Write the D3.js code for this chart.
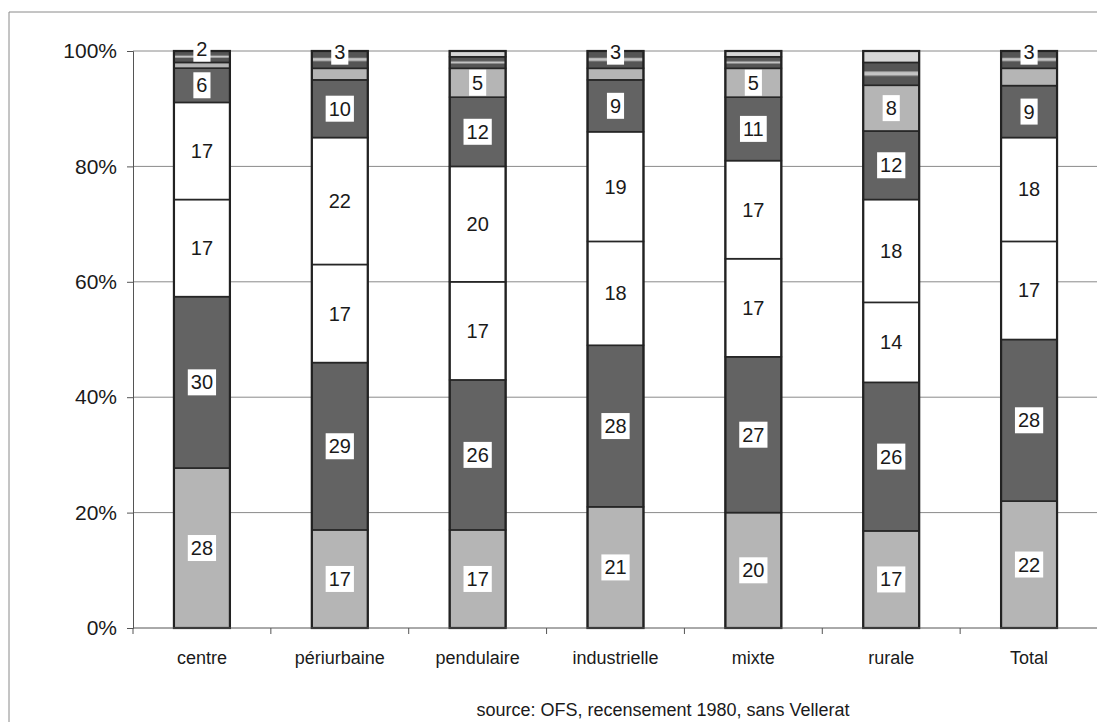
<!DOCTYPE html>
<html>
<head>
<meta charset="utf-8">
<script src="https://cdn.jsdelivr.net/npm/d3@7"></script>
<style>
  html, body { margin: 0; padding: 0; background: #fff; }
  svg { display: block; }
  text { font-family: "Liberation Sans", Arial, sans-serif; fill: #1a1a1a; }
</style>
</head>
<body>
<svg id="chart" width="1097" height="722"></svg>
<script>
// Communes by type (OFS census 1980): share of each of eight groups, in percent
const categories = ["centre", "périurbaine", "pendulaire", "industrielle", "mixte", "rurale", "Total"];
const seg1 = [28, 17, 17, 21, 20, 17, 22];   // light grey (bottom)
const seg2 = [30, 29, 26, 28, 27, 26, 28];   // dark grey
const seg3 = [17, 17, 17, 18, 17, 14, 17];   // white
const seg4 = [17, 22, 20, 19, 17, 18, 18];   // white
const seg5 = [6, 10, 12, 9, 11, 12, 9];      // dark grey
const seg6 = [1, 2, 5, 2, 5, 8, 3];          // light grey
const seg7 = [2, 3, 2, 3, 2, 4, 3];          // striped
const seg8 = [0, 0, 1, 0, 1, 2, 0];          // pale (top)
const yTicks = [0, 0.2, 0.4, 0.6, 0.8, 1];
const sourceNote = "source: OFS, recensement 1980, sans Vellerat";

const segments = [seg1, seg2, seg3, seg4, seg5, seg6, seg7, seg8];
const keys = segments.map((_, i) => "s" + (i + 1));
const rows = categories.map((c, j) => {
  const r = { cat: c };
  segments.forEach((s, i) => { r[keys[i]] = s[j]; });
  return r;
});

const LIGHT = "#b5b5b5", DARK = "#636363", WHITE = "#ffffff", PALE = "#d6d6d6";
const fills = [LIGHT, DARK, WHITE, WHITE, DARK, LIGHT, "url(#stripe)", PALE];

const svg = d3.select("#chart");
const defs = svg.append("defs");
// dark fill with one pale band across the middle of each segment
const stripe = defs.append("pattern")
  .attr("id", "stripe")
  .attr("patternUnits", "objectBoundingBox")
  .attr("patternContentUnits", "objectBoundingBox")
  .attr("width", 1).attr("height", 1);
stripe.append("rect").attr("width", 1).attr("height", 1).attr("fill", "#555");
stripe.append("rect").attr("y", 0.4).attr("width", 1).attr("height", 0.18).attr("fill", "#c4c4c4");

// frame of the chart area
svg.append("path")
  .attr("d", "M9,722 V12 H1097")
  .attr("fill", "none").attr("stroke", "#8a8a8a").attr("stroke-width", 1);

const plot = { left: 133, right: 1098, top: 51, bottom: 628 };

const x = d3.scaleBand()
  .domain(categories)
  .range([plot.left, plot.right])
  .paddingInner(0.594)
  .paddingOuter(0.297);

const y = d3.scaleLinear().domain([0, 1]).range([plot.bottom, plot.top]);

// horizontal gridlines
svg.append("g")
  .selectAll("line")
  .data(yTicks.slice(1))
  .join("line")
  .attr("x1", plot.left).attr("x2", 1097)
  .attr("y1", d => y(d)).attr("y2", d => y(d))
  .attr("stroke", "#8a8a8a").attr("stroke-width", 1);

// y axis
const yAxis = svg.append("g")
  .attr("transform", `translate(${plot.left},0)`)
  .call(d3.axisLeft(y).tickValues(yTicks).tickFormat(d3.format(".0%")).tickSize(6).tickPadding(10));
yAxis.select(".domain").attr("stroke", "#555");
yAxis.selectAll(".tick line").attr("stroke", "#555");
yAxis.selectAll("text").attr("font-size", 21).attr("fill", "#1a1a1a")
  .style("font-family", "'Liberation Sans', Arial, sans-serif");

// stacked 100% bars
const stacked = d3.stack().keys(keys).offset(d3.stackOffsetExpand)(rows);

const layers = svg.append("g").selectAll("g")
  .data(stacked)
  .join("g")
  .attr("fill", (d, i) => fills[i]);

layers.selectAll("rect")
  .data(d => d)
  .join("rect")
  .attr("x", d => x(d.data.cat))
  .attr("width", x.bandwidth())
  .attr("y", d => y(d[1]))
  .attr("height", d => Math.max(0, y(d[0]) - y(d[1])))
  .attr("stroke", "#262626")
  .attr("stroke-width", d => (y(d[0]) - y(d[1])) > 0.5 ? 1.6 : 0);

// bar outlines
svg.append("g").selectAll("rect")
  .data(categories)
  .join("rect")
  .attr("x", d => x(d))
  .attr("width", x.bandwidth())
  .attr("y", y(1))
  .attr("height", y(0) - y(1))
  .attr("fill", "none")
  .attr("stroke", "#222")
  .attr("stroke-width", 2.2);

// x axis with ticks between categories
const xAxisG = svg.append("g");
xAxisG.append("line")
  .attr("x1", plot.left).attr("x2", 1097)
  .attr("y1", y(0)).attr("y2", y(0))
  .attr("stroke", "#555");
const step = x.step();
const bounds = d3.range(categories.length + 1).map(i => plot.left + i * step);
xAxisG.selectAll(".xt").data(bounds).join("line")
  .attr("class", "xt")
  .attr("x1", d => d).attr("x2", d => d)
  .attr("y1", y(0)).attr("y2", y(0) + 6)
  .attr("stroke", "#555");
xAxisG.selectAll("text").data(categories).join("text")
  .attr("x", d => x(d) + x.bandwidth() / 2)
  .attr("y", y(0) + 36)
  .attr("text-anchor", "middle")
  .attr("font-size", 18)
  .text(d => d);

// value labels: the two thin top groups share one slot
function labelShown(si, j) {
  if (si <= 4) return true;
  if (si === 5) return seg6[j] >= 5;
  if (si === 6) return seg6[j] < 5;
  return false;
}

const labelG = svg.append("g");
stacked.forEach((layer, si) => {
  layer.forEach((d, j) => {
    if (!labelShown(si, j)) return;
    const cx = x(d.data.cat) + x.bandwidth() / 2;
    let cy = (y(d[0]) + y(d[1])) / 2;
    if (si === 6) cy -= 8;
    const g = labelG.append("g");
    const t = g.append("text")
      .attr("x", cx).attr("y", cy)
      .attr("text-anchor", "middle")
      .attr("dominant-baseline", "central")
      .attr("font-size", 20)
      .text(segments[si][j]);
    const w = t.node().getComputedTextLength();
    g.insert("rect", "text")
      .attr("x", cx - w / 2 - 3).attr("y", cy - 13)
      .attr("width", w + 6).attr("height", 26)
      .attr("fill", "#fff");
  });
});

// source note
svg.append("text")
  .attr("x", 663).attr("y", 716)
  .attr("text-anchor", "middle")
  .attr("font-size", 18)
  .text(sourceNote);
</script>
</body>
</html>
